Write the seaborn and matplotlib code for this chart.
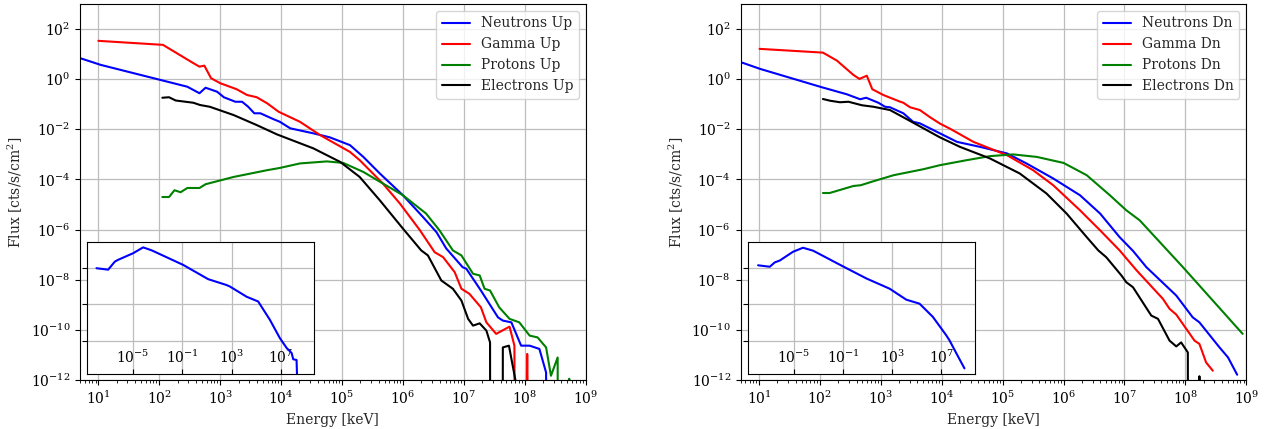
import numpy as np
import seaborn as sns
import matplotlib.pyplot as plt
from matplotlib.ticker import NullLocator

# ------------------------------------------------------------
# data, stored as log10 values
# energy in keV, flux in cts/s/cm^2 ; -30 = empty bin
# ------------------------------------------------------------
n_up_x = [0.70, 1.04, 2.02, 2.46, 2.66, 2.76, 2.95, 3.06, 3.25, 3.36, 3.46, 3.56, 3.66, 3.87, 3.98, 4.15,
          4.53, 4.80, 5.13, 5.35, 5.62, 6.00, 6.33, 6.55, 6.71, 6.98, 7.04, 7.28, 7.56, 7.64, 7.78,
          7.94, 8.08, 8.24, 8.35, 8.37]
n_up_y = [0.84, 0.57, -0.03, -0.30, -0.56, -0.34, -0.50, -0.72, -0.90, -0.90, -1.10, -1.36, -1.36, -1.59,
          -1.70, -1.96, -2.16, -2.32, -2.63, -3.10, -3.76, -4.63, -5.50, -6.10, -6.75, -7.50, -7.56,
          -8.43, -9.50, -9.63, -9.70, -10.63, -10.63, -10.76, -11.70, -30]

g_up_x = [1.00, 2.06, 2.56, 2.66, 2.74, 2.85, 3.00, 3.27, 3.44, 3.60, 3.77, 3.96, 4.31, 4.64, 5.13, 5.29,
          5.67, 5.95, 6.28, 6.52, 6.66, 6.85, 6.96, 7.09, 7.28, 7.37, 7.53, 7.75, 7.83, 7.85, 7.94, 8.04, 8.14]
g_up_y = [1.53, 1.37, 0.64, 0.50, 0.54, 0.04, -0.16, -0.40, -0.63, -0.72, -0.96, -1.30, -1.70, -2.23,
          -2.90, -3.23, -4.16, -4.96, -6.03, -6.90, -7.10, -7.70, -8.36, -8.56, -9.10, -9.70, -10.16,
          -9.87, -10.63, -30, -30, -10.96, -30]

p_up_x = [2.05, 2.16, 2.25, 2.35, 2.46, 2.66, 2.76, 2.95, 3.22, 3.77, 3.98, 4.31, 4.75, 5.02, 5.35, 5.67,
          6.00, 6.38, 6.60, 6.82, 6.96, 7.15, 7.26, 7.34, 7.43, 7.58, 7.75, 7.91, 8.08, 8.21, 8.35,
          8.43, 8.54, 8.55, 8.72, 8.73, 8.74]
p_up_y = [-4.70, -4.70, -4.43, -4.51, -4.34, -4.34, -4.19, -4.07, -3.90, -3.63, -3.54, -3.36, -3.28, -3.34,
          -3.70, -4.16, -4.63, -5.36, -6.03, -6.83, -7.03, -7.76, -7.83, -8.36, -8.43, -9.10, -9.56,
          -9.70, -10.23, -10.30, -10.70, -11.83, -11.10, -30, -30, -11.95, -30]

e_up_x = [2.05, 2.16, 2.27, 2.56, 2.67, 2.83, 3.22, 3.60, 3.93, 4.53, 4.97, 5.29, 5.62, 6.00, 6.30,
          6.41, 6.63, 6.82, 6.96, 7.07, 7.15, 7.26, 7.37, 7.43, 7.44, 7.63, 7.64, 7.74, 7.85, 7.86]
e_up_y = [-0.74, -0.72, -0.85, -0.94, -1.03, -1.10, -1.43, -1.83, -2.20, -2.76, -3.30, -3.90, -4.83,
          -5.96, -6.83, -7.03, -8.03, -8.36, -8.83, -9.56, -9.83, -9.74, -10.03, -10.50, -30, -30, -10.70,
          -10.63, -12.05, -30]

n_dn_x = [0.70, 1.02, 2.03, 2.44, 2.66, 2.76, 2.88, 2.96, 3.07, 3.15, 3.37, 3.53, 3.64, 3.97, 4.25, 4.63,
          5.07, 5.39, 5.83, 6.27, 6.60, 6.92, 7.14, 7.36, 7.85, 8.12, 8.23, 8.56, 8.70, 8.85]
n_dn_y = [0.68, 0.41, -0.32, -0.60, -0.80, -0.74, -0.86, -0.94, -1.10, -1.12, -1.36, -1.70, -1.76, -2.16,
          -2.50, -2.70, -2.96, -3.36, -3.96, -4.63, -5.36, -6.30, -6.85, -7.50, -8.63, -9.50, -9.70, -10.70,
          -11.10, -11.79]

g_dn_x = [1.01, 2.05, 2.28, 2.55, 2.65, 2.77, 2.86, 3.04, 3.32, 3.37, 3.48, 3.64, 3.81, 3.97, 4.14, 4.52,
          5.07, 5.50, 5.83, 6.27, 6.60, 6.92, 7.20, 7.63, 7.74, 7.85, 8.15, 8.23, 8.34, 8.45]
g_dn_y = [1.21, 1.06, 0.74, 0.17, 0.01, 0.14, -0.40, -0.63, -0.90, -0.94, -1.12, -1.23, -1.52, -1.77, -1.98,
          -2.50, -3.03, -3.63, -4.23, -5.23, -6.03, -6.83, -7.63, -8.76, -9.16, -9.39, -10.43, -10.56,
          -11.30, -11.63]

p_dn_x = [2.05, 2.16, 2.55, 2.67, 2.88, 3.21, 3.70, 3.97, 4.41, 4.79, 5.17, 5.56, 6.00, 6.38, 6.76, 7.03,
          7.25, 7.96, 8.94]
p_dn_y = [-4.54, -4.54, -4.26, -4.23, -4.07, -3.83, -3.59, -3.43, -3.23, -3.07, -3.00, -3.10, -3.34, -3.83,
          -4.63, -5.23, -5.63, -7.50, -10.16]

e_dn_x = [2.05, 2.17, 2.33, 2.47, 2.69, 2.88, 3.15, 3.37, 3.70, 3.97, 4.30, 4.79, 5.28, 5.72, 6.05, 6.38,
          6.57, 6.70, 6.95, 7.03, 7.14, 7.44, 7.55, 7.74, 7.85, 7.93, 8.04, 8.05, 8.22, 8.23, 8.24]
e_dn_y = [-0.79, -0.86, -0.92, -0.90, -1.04, -1.10, -1.23, -1.52, -1.96, -2.32, -2.70, -3.16, -3.76, -4.56,
          -5.36, -6.30, -6.83, -7.10, -7.83, -8.10, -8.30, -9.43, -9.56, -10.43, -10.66, -10.50,
          -10.90, -30, -30, -11.85, -30]

# insets: full neutron spectrum
ins_up_x = [-7.98, -7.03, -6.49, -6.22, -5.00, -4.19, -3.50, -0.93, 1.10, 2.59, 2.86, 4.22, 5.16, 6.11,
            6.92, 7.47, 7.88, 8.01, 8.28, 8.41]
ins_up_y = [-1.01, -1.05, -0.83, -0.78, -0.60, -0.44, -0.52, -0.92, -1.31, -1.47, -1.51, -1.79, -1.92,
            -2.42, -2.92, -3.19, -3.33, -3.50, -3.52, -5.00]

ins_dn_x = [-7.90, -6.95, -6.54, -6.14, -5.06, -4.25, -3.43, -1.00, 0.90, 2.79, 4.14, 5.22, 6.30, 7.38,
            7.65, 8.20, 8.87]
ins_dn_y = [-0.93, -0.97, -0.85, -0.80, -0.56, -0.45, -0.53, -0.96, -1.29, -1.57, -1.87, -1.98, -2.34,
            -2.84, -2.98, -3.33, -3.75]

colors = ["blue", "red", "green", "black"]
particles = ["Neutrons", "Gamma", "Protons", "Electrons"]

panels = [
    ("Up", [(n_up_x, n_up_y), (g_up_x, g_up_y), (p_up_x, p_up_y), (e_up_x, e_up_y)], (ins_up_x, ins_up_y)),
    ("Dn", [(n_dn_x, n_dn_y), (g_dn_x, g_dn_y), (p_dn_x, p_dn_y), (e_dn_x, e_dn_y)], (ins_dn_x, ins_dn_y)),
]

# ------------------------------------------------------------
# style
# ------------------------------------------------------------
sns.set_style("ticks")
plt.rcParams["font.family"] = ["DejaVu Serif"]
plt.rcParams["mathtext.fontset"] = "dejavuserif"
plt.rcParams["font.size"] = 10
plt.rcParams["axes.edgecolor"] = "black"
plt.rcParams["axes.linewidth"] = 0.8
plt.rcParams["grid.color"] = "#bdbdbd"
plt.rcParams["grid.linewidth"] = 0.9
plt.rcParams["xtick.color"] = "black"
plt.rcParams["ytick.color"] = "black"

fig = plt.figure(figsize=(12.68, 4.29), dpi=100)
lefts = [0.0631, 0.5841]


def lg(v):
    return 10.0 ** np.array(v)


for left, (tag, series, inset) in zip(lefts, panels):
    ax = fig.add_axes([left, 0.1142, 0.3988, 0.8765])
    ax.set_xscale("log")
    ax.set_yscale("log")

    for (xs, ys), c, name in zip(series, colors, particles):
        sns.lineplot(x=lg(xs), y=lg(ys), color=c, lw=1.5, label=f"{name} {tag}",
                     estimator=None, sort=False, ax=ax, legend=False)

    ax.set_xlim(5, 1e9)
    ax.set_ylim(1e-12, 1e3)
    ax.set_xticks(10.0 ** np.arange(1, 10))
    ax.set_yticks(10.0 ** np.arange(-12, 3, 2))
    ax.yaxis.set_minor_locator(NullLocator())
    ax.grid(True, which="major")
    ax.set_xlabel("Energy [keV]")
    ax.set_ylabel(r"Flux [cts/s/cm$^2$]")
    ax.legend(loc="upper right")

    # inset with the complete neutron spectrum
    ins = ax.inset_axes([0.0138, 0.0173, 0.449, 0.35])
    ins.set_xscale("log")
    ins.set_yscale("log")
    sns.lineplot(x=lg(inset[0]), y=lg(inset[1]), color="blue", lw=1.5,
                 estimator=None, sort=False, ax=ins, legend=False)
    ins.set_facecolor("white")
    ins.set_xlim(10 ** -8.75, 10 ** 9.7)
    ins.set_ylim(10 ** -3.89, 10 ** -0.29)
    ins.set_xticks([1e-5, 1e-1, 1e3, 1e7])
    ins.set_yticks([1e-3, 1e-2, 1e-1])
    ins.xaxis.set_minor_locator(NullLocator())
    ins.yaxis.set_minor_locator(NullLocator())
    ins.tick_params(axis="x", direction="in", pad=-17.5)
    ins.tick_params(axis="y", labelleft=False)
    ins.set_xlabel("")
    ins.set_ylabel("")
    ins.grid(True)

fig.savefig("out.png", dpi=100)
